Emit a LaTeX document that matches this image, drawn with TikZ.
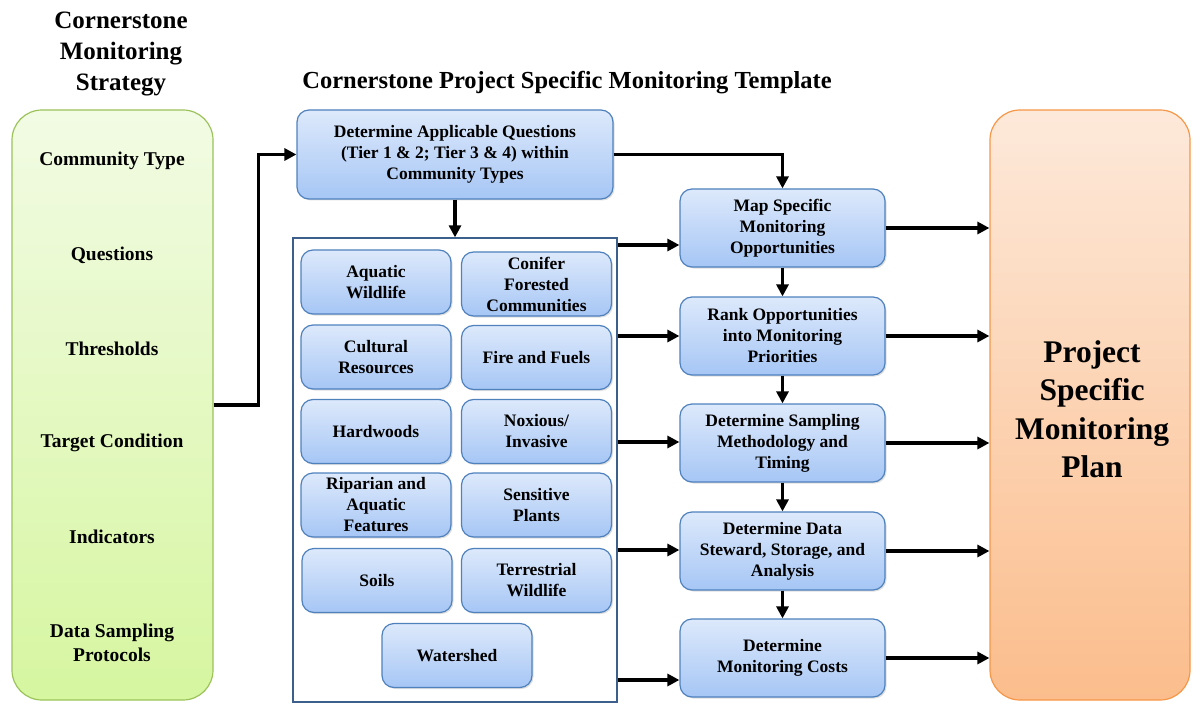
\documentclass[tikz,border=0pt]{standalone}
\usepackage{fontspec}
\setmainfont{Liberation Serif}
\usepackage{xcolor}
\usetikzlibrary{arrows.meta, positioning, shadows, calc}
\definecolor{cbedge}{RGB}{79,129,189}
\definecolor{cbtop}{RGB}{221,233,251}
\definecolor{cbbot}{RGB}{166,198,245}
\definecolor{cgedge}{RGB}{155,195,90}
\definecolor{cgtop}{RGB}{242,251,228}
\definecolor{cgbot}{RGB}{214,246,160}
\definecolor{coedge}{RGB}{247,150,70}
\definecolor{cotop}{RGB}{253,233,218}
\definecolor{cobot}{RGB}{251,189,140}
\definecolor{cframe}{RGB}{60,95,140}

\begin{document}
\begin{tikzpicture}[x=1pt, y=-1pt,
  every node/.style={font=\bfseries\fontsize{17.5}{21}\selectfont, align=center},
  heading/.style={font=\bfseries\fontsize{25}{31}\selectfont},
  entry/.style={font=\bfseries\fontsize{19.5}{23.5}\selectfont},
  task/.style={rectangle, rounded corners=12pt, draw=cbedge, line width=1.2pt,
               top color=cbtop, bottom color=cbbot, inner sep=2pt,
               drop shadow={shadow xshift=1.5pt, shadow yshift=-1.5pt, opacity=0.25}},
  topic/.style={task, minimum width=150pt, minimum height=64pt},
  stage/.style={task, minimum width=205pt, minimum height=78pt},
  strategy/.style={rectangle, rounded corners=30pt, draw=cgedge, line width=1.2pt,
               top color=cgtop, bottom color=cgbot, minimum width=201pt, minimum height=590pt},
  plan/.style={rectangle, rounded corners=30pt, draw=coedge, line width=1.2pt,
               top color=cotop, bottom color=cobot, minimum width=200pt, minimum height=590pt},
  frame/.style={rectangle, draw=cframe, line width=1.3pt, minimum width=324pt, minimum height=464pt},
  arr/.style={-{Triangle[length=12pt,width=12pt]}, line width=3.5pt},
]
\useasboundingbox (0,0) rectangle (1193,703);

% left column: strategy
\node[heading] (sttl) at (121,54) {Cornerstone\\Monitoring\\Strategy};
\node[strategy] (strat) at (112.5,405) {};
\node[entry] (ctype) at (112,161) {Community Type};
\node[entry] (quest) at (112,255) {Questions};
\node[entry] (thres) at (112,349) {Thresholds};
\node[entry] (tcond) at (112,443) {Target Condition};
\node[entry] (indic) at (112,537) {Indicators};
\node[entry] (proto) at (112,643) {Data Sampling\\Protocols};

% template
\node[heading, font=\bfseries\fontsize{24.5}{28}\selectfont] (tmpl) at (567,83)
  {Cornerstone Project Specific Monitoring Template};
\node[task, minimum width=316pt, minimum height=89pt] (qs) at (455,154.5)
  {Determine Applicable Questions\\(Tier 1 \& 2; Tier 3 \& 4) within\\Community Types};
\node[frame] (cont) at (455,470) {};

\node[topic] (aqua)  at (376,282)   {Aquatic\\Wildlife};
\node[topic] (conif) at (536.5,284) {Conifer\\Forested\\Communities};
\node[topic] (cult)  at (376,357)   {Cultural\\Resources};
\node[topic] (fire)  at (536.5,357.5) {Fire and Fuels};
\node[topic] (hard)  at (376,431.5) {Hardwoods};
\node[topic] (nox)   at (536.5,431.5) {Noxious/\\Invasive};
\node[topic] (ripa)  at (376,505)   {Riparian and\\Aquatic\\Features};
\node[topic] (sens)  at (536.5,505) {Sensitive\\Plants};
\node[topic] (soils) at (377,580.5) {Soils};
\node[topic] (terr)  at (536.5,580.5) {Terrestrial\\Wildlife};
\node[topic] (water) at (457,655.5) {Watershed};

% steps
\node[stage] (map)  at (782.5,228) {Map Specific\\Monitoring\\Opportunities};
\node[stage] (rank) at (782.5,336) {Rank Opportunities\\into Monitoring\\Priorities};
\node[stage] (samp) at (782.5,443) {Determine Sampling\\Methodology and\\Timing};
\node[stage] (data) at (782.5,551) {Determine Data\\Steward, Storage, and\\Analysis};
\node[stage] (cost) at (782.5,658) {Determine\\Monitoring Costs};

% result
\node[plan] (pplan) at (1090,405) {};
\node[font=\bfseries\fontsize{31.5}{38.5}\selectfont] (ptext) at (1092,409)
  {Project\\Specific\\Monitoring\\Plan};

% connectors
\draw[arr] (strat.east) -- ++(45,0) |- (qs.west);
\draw[arr] (qs.south) -- (cont.north);
\draw[arr] (qs.east) -| (map.north);
\foreach \a/\b in {map/rank, rank/samp, samp/data, data/cost}
  \draw[arr] (\a) -- (\b);
\foreach \y/\b in {245/map, 336/rank, 442/samp, 550/data, 680/cost}
  \draw[arr] (cont.east |- 0,\y) -- (\b.west |- 0,\y);
\foreach \b in {map, rank, samp, data, cost}
  \draw[arr] (\b.east) -- (\b.east -| pplan.west);

\end{tikzpicture}
\end{document}
